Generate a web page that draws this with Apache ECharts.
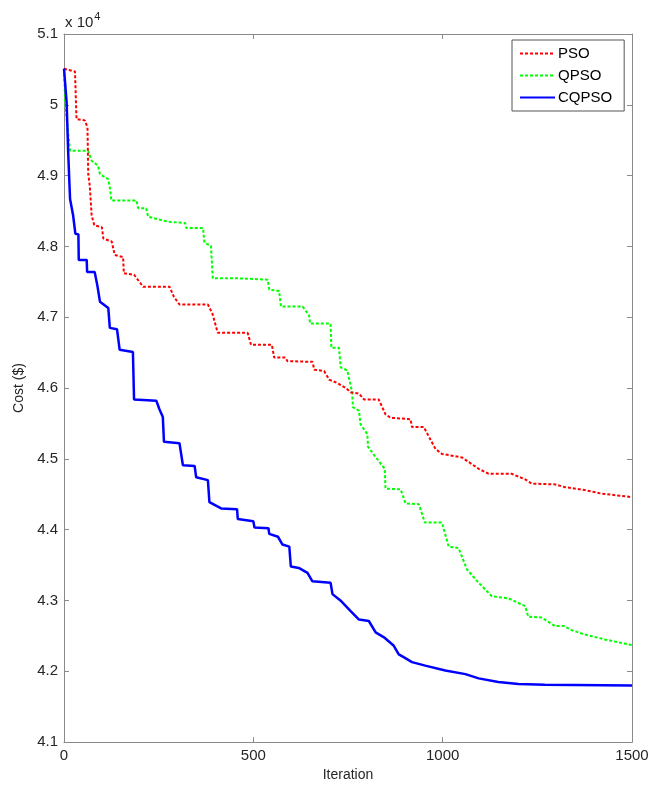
<!DOCTYPE html>
<html>
<head>
<meta charset="utf-8">
<script src="https://cdn.jsdelivr.net/npm/echarts@6/dist/echarts.min.js"></script>
<style>
html,body{margin:0;padding:0;background:#fff;}
#chart{width:654px;height:787px;}
</style>
</head>
<body>
<div id="chart"></div>
<script>
// Cost values in units of 10^4 $
const seriesNames = ['PSO', 'QPSO', 'CQPSO'];
const xTicks = [0, 500, 1000, 1500];
const yTicks = [4.1, 4.2, 4.3, 4.4, 4.5, 4.6, 4.7, 4.8, 4.9, 5.0, 5.1];
const costScale = 1e4;

const psoIter = [0,29,33,55,62,64,68,73,80,100,104,126,134,156,158,185,209,279,290,305,380,392,406,485,494,549,555,585,590,656,661,687,700,722,744,757,779,792,831,849,862,915,919,950,981,998,1051,1095,1121,1182,1218,1235,1296,1323,1375,1419,1500];
const psoCost = [5.051,5.047,4.980,4.978,4.968,4.902,4.886,4.844,4.830,4.827,4.811,4.807,4.788,4.785,4.762,4.760,4.743,4.743,4.729,4.718,4.718,4.705,4.678,4.678,4.661,4.661,4.643,4.643,4.638,4.637,4.626,4.624,4.612,4.607,4.600,4.594,4.592,4.584,4.584,4.563,4.558,4.556,4.545,4.545,4.514,4.507,4.502,4.486,4.479,4.479,4.471,4.465,4.464,4.460,4.456,4.451,4.446];

const qpsoIter = [0,3,7,16,64,73,90,95,117,122,125,191,196,217,222,274,320,323,367,371,388,393,459,538,542,568,573,630,647,650,704,706,726,731,748,761,763,779,783,801,803,818,847,849,889,902,937,953,998,1016,1042,1064,1095,1130,1174,1218,1226,1261,1296,1320,1341,1375,1428,1500];
const qpsoCost = [5.051,5.007,4.980,4.935,4.935,4.921,4.914,4.902,4.895,4.880,4.865,4.865,4.854,4.854,4.842,4.835,4.833,4.826,4.826,4.805,4.801,4.755,4.755,4.753,4.739,4.737,4.715,4.715,4.703,4.691,4.691,4.657,4.657,4.629,4.625,4.594,4.573,4.568,4.549,4.535,4.517,4.506,4.486,4.458,4.457,4.437,4.436,4.410,4.410,4.376,4.374,4.344,4.325,4.306,4.303,4.292,4.277,4.276,4.264,4.264,4.258,4.252,4.245,4.237];

const cqpsoIter = [0,7,11,16,20,24,30,38,39,60,61,81,88,95,117,121,140,147,182,185,244,252,261,264,305,314,345,349,380,384,415,457,459,500,503,540,542,565,577,595,599,620,643,656,704,709,730,757,779,805,823,845,871,884,897,919,954,1007,1060,1095,1147,1200,1270,1500];
const cqpsoCost = [5.051,5.003,4.933,4.867,4.865,4.844,4.818,4.817,4.781,4.781,4.764,4.764,4.745,4.722,4.713,4.685,4.683,4.654,4.651,4.584,4.582,4.570,4.559,4.524,4.522,4.491,4.490,4.474,4.470,4.439,4.430,4.429,4.415,4.412,4.403,4.402,4.394,4.390,4.379,4.376,4.348,4.346,4.339,4.327,4.325,4.309,4.300,4.285,4.273,4.271,4.255,4.248,4.236,4.224,4.220,4.213,4.208,4.201,4.196,4.190,4.185,4.182,4.181,4.180];

function pairs(xs, ys) { return xs.map((x, i) => [x, ys[i] * costScale]); }

const chart = echarts.init(document.getElementById('chart'), null, {renderer: 'canvas'});
const font = 'Liberation Sans, Arial, sans-serif';
const axisGray = '#8a8a8a';
const textCol = '#262626';
const yMin = yTicks[0] * costScale, yMax = yTicks[yTicks.length - 1] * costScale;
const yStep = (yTicks[1] - yTicks[0]) * costScale;
const xMin = xTicks[0], xMax = xTicks[xTicks.length - 1], xStep = xTicks[1] - xTicks[0];

const baseX = {type: 'value', min: xMin, max: xMax, interval: xStep,
  axisLine: {show: true, onZero: false, lineStyle: {color: axisGray, width: 1}},
  axisTick: {show: true, inside: true, length: 5, lineStyle: {color: axisGray}},
  splitLine: {show: false}};
const baseY = {type: 'value', min: Math.round(yMin), max: Math.round(yMax), interval: Math.round(yStep),
  axisLine: {show: true, onZero: false, lineStyle: {color: axisGray, width: 1}},
  axisTick: {show: true, inside: true, length: 5, lineStyle: {color: axisGray}},
  splitLine: {show: false}};

const colors = ['#ff0000', '#00ff00', '#0000ff'];

chart.setOption({
  animation: false,
  backgroundColor: '#fff',
  grid: {left: 64, right: 22, top: 34, bottom: 41},
  xAxis: [
    Object.assign({}, baseX, {position: 'bottom', name: 'Iteration', nameLocation: 'middle', nameGap: 24,
      nameTextStyle: {color: textCol, fontSize: 14, fontFamily: font},
      axisLabel: {color: textCol, fontSize: 15, fontFamily: font, margin: 6, formatter: v => String(v)}}),
    Object.assign({}, baseX, {position: 'top', axisLabel: {show: false}})
  ],
  yAxis: [
    Object.assign({}, baseY, {position: 'left', name: 'Cost ($)', nameLocation: 'middle', nameGap: 36,
      nameTextStyle: {color: textCol, fontSize: 14, fontFamily: font},
      axisLabel: {color: textCol, fontSize: 15, fontFamily: font, margin: 6,
        formatter: v => String(Number((v / costScale).toFixed(1)))}}),
    Object.assign({}, baseY, {position: 'right', axisLabel: {show: false}})
  ],
  legend: {
    orient: 'vertical', left: 512, top: 40,
    itemWidth: 35, itemHeight: 14, itemGap: 7,
    padding: [6, 12, 6, 7],
    backgroundColor: '#fff', borderColor: '#555', borderWidth: 1,
    itemStyle: {opacity: 0},
    textStyle: {color: '#000', fontSize: 15, fontFamily: font, padding: [0,0,0,-2]},
    data: seriesNames
  },
  graphic: [{
    type: 'text', left: 65, top: 11,
    style: {
      text: '{a|x 10}{b|4}',
      rich: {
        a: {fontSize: 15, fontFamily: font, fill: textCol, verticalAlign: 'bottom'},
        b: {fontSize: 11, fontFamily: font, fill: textCol, verticalAlign: 'top', padding: [0,0,8,1]}
      }
    }
  }],
  series: [
    {name: seriesNames[0], type: 'line', symbol: 'none', data: pairs(psoIter, psoCost),
      lineStyle: {color: colors[0], width: 2, type: [3, 2]}, itemStyle: {color: colors[0]}, z: 3},
    {name: seriesNames[1], type: 'line', symbol: 'none', data: pairs(qpsoIter, qpsoCost),
      lineStyle: {color: colors[1], width: 2, type: [3, 2]}, itemStyle: {color: colors[1]}, z: 2},
    {name: seriesNames[2], type: 'line', symbol: 'none', data: pairs(cqpsoIter, cqpsoCost),
      lineStyle: {color: colors[2], width: 2.5}, itemStyle: {color: colors[2]}, z: 4}
  ]
});
</script>
</body>
</html>
